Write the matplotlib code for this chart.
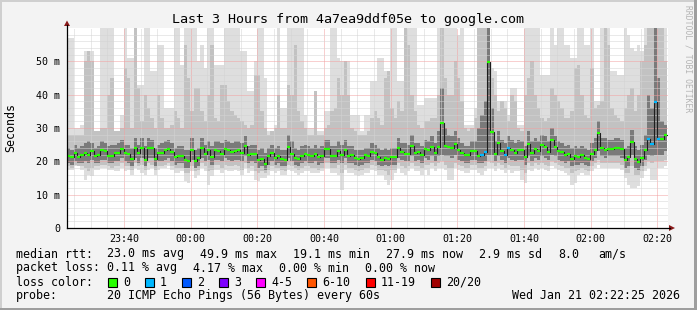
"""
SmokePing style latency graph: smoke bands + median rtt coloured by loss.
"""

import numpy as np
import matplotlib
matplotlib.use("Agg")
import matplotlib.pyplot as plt
from matplotlib.lines import Line2D
from matplotlib.patches import Rectangle, Polygon

W, H = 697, 310
MONO = "DejaVu Sans Mono"

# ---- data (ms, one value per 60 s step, 180 steps) ----
median = [
    21.6, 21.3, 22.5, 21.3, 21.9, 22.6, 21.9, 23.1, 21.5, 22.0,
    23.3, 23.1, 21.7, 21.7, 22.4, 22.6, 23.7, 22.4, 22.1, 20.8,
    24.1, 22.4, 24.1, 20.5, 24.1, 24.1, 20.8, 22.4, 22.6, 23.3,
    23.7, 22.8, 21.3, 21.7, 21.7, 20.3, 20.1, 23.5, 20.1, 21.0,
    24.1, 22.3, 23.3, 21.3, 23.3, 23.1, 22.3, 23.7, 23.3, 22.8,
    23.1, 23.3, 22.6, 24.6, 21.9, 22.3, 22.1, 20.5, 20.8, 19.1,
    21.5, 22.5, 21.1, 21.7, 20.7, 20.4, 24.3, 22.3, 21.1, 20.7,
    21.7, 22.3, 22.0, 21.7, 22.3, 21.3, 21.7, 23.7, 23.7, 21.7,
    21.7, 23.1, 22.0, 23.5, 21.7, 21.9, 21.1, 20.7, 21.1, 21.9,
    21.7, 22.8, 22.5, 21.3, 20.5, 21.1, 20.7, 21.3, 21.3, 24.1,
    22.8, 22.3, 22.3, 24.7, 22.5, 22.8, 21.9, 23.7, 23.3, 24.3,
    22.5, 24.3, 31.5, 24.7, 24.3, 24.1, 25.3, 23.5, 22.5, 21.9,
    21.9, 23.1, 23.1, 21.7, 21.9, 22.8, 49.9, 28.9, 22.3, 25.5,
    23.1, 21.9, 24.1, 23.5, 22.5, 23.5, 23.5, 21.3, 25.3, 22.5,
    23.7, 23.1, 24.9, 24.3, 22.8, 26.5, 24.3, 23.1, 22.8, 21.9,
    22.3, 20.8, 21.5, 21.3, 21.9, 21.1, 20.7, 22.3, 23.5, 28.5,
    24.1, 23.5, 23.7, 23.7, 24.1, 24.1, 23.7, 20.5, 21.3, 25.9,
    20.7, 19.7, 21.1, 23.3, 26.8, 25.3, 37.8, 26.8, 26.8, 27.9,
]

# outer smoke (slowest / fastest ping)
smoke_max = [
    57, 57, 30, 30, 31, 53, 53, 53, 29, 29,
    62, 62, 62, 62, 29, 29, 34, 62, 51, 51,
    62, 43, 43, 62, 62, 47, 47, 55, 55, 36,
    36, 36, 62, 62, 49, 62, 62, 62, 62, 50,
    55, 48, 62, 62, 49, 49, 49, 62, 62, 62,
    62, 62, 53, 53, 41, 41, 50, 62, 62, 45,
    29, 29, 31, 62, 36, 36, 62, 62, 62, 62,
    62, 34, 30, 30, 41, 29, 29, 35, 35, 62,
    62, 51, 50, 50, 50, 34, 34, 34, 29, 34,
    34, 44, 44, 51, 51, 47, 47, 62, 62, 44,
    44, 62, 62, 62, 62, 37, 37, 39, 39, 39,
    39, 62, 62, 62, 62, 60, 62, 58, 62, 31,
    31, 31, 36, 62, 62, 62, 62, 48, 47, 38,
    38, 38, 34, 42, 42, 31, 31, 62, 62, 62,
    62, 62, 46, 46, 46, 62, 55, 62, 62, 55,
    55, 51, 51, 62, 62, 55, 55, 62, 38, 38,
    62, 62, 62, 47, 47, 46, 46, 62, 58, 54,
    53, 55, 53, 62, 62, 62, 62, 62, 62, 62,
]
smoke_min = [
    17.5, 17.5, 18.5, 18.5, 17.5, 14.5, 16.0, 15.5, 17.5, 17.5,
    18.0, 18.0, 17.5, 17.5, 17.0, 17.0, 18.0, 17.0, 17.5, 16.0,
    18.0, 17.5, 16.5, 16.0, 17.5, 18.0, 16.0, 17.5, 18.0, 18.0,
    18.5, 17.5, 16.5, 16.5, 17.0, 14.0, 13.5, 17.0, 15.0, 16.0,
    18.0, 17.0, 13.0, 15.5, 17.5, 17.5, 16.5, 17.5, 17.0, 17.0,
    17.5, 17.0, 16.0, 18.0, 16.5, 17.0, 14.5, 14.0, 15.0, 15.0,
    16.0, 17.0, 16.5, 17.0, 16.0, 16.0, 17.5, 17.0, 16.5, 16.0,
    16.5, 17.0, 17.0, 16.5, 16.5, 16.5, 17.0, 18.0, 18.0, 16.5,
    16.5, 16.0, 11.5, 17.5, 16.5, 16.5, 16.0, 15.5, 16.0, 16.5,
    16.5, 17.5, 17.0, 16.0, 16.0, 14.5, 13.0, 14.5, 16.5, 18.0,
    16.5, 16.0, 17.0, 18.0, 17.0, 17.0, 16.0, 17.5, 16.0, 18.0,
    17.0, 18.0, 18.0, 17.5, 14.5, 14.5, 18.0, 17.5, 17.0, 16.5,
    16.5, 17.5, 17.5, 16.5, 16.0, 17.0, 18.0, 18.0, 17.0, 18.0,
    17.5, 16.5, 17.5, 16.5, 17.0, 17.0, 14.5, 13.5, 17.5, 17.0,
    18.0, 17.5, 18.0, 17.5, 17.0, 18.5, 18.0, 17.5, 17.0, 16.5,
    16.0, 13.0, 13.5, 16.0, 16.5, 16.0, 16.0, 17.0, 18.0, 19.0,
    18.0, 18.0, 18.0, 18.0, 18.0, 18.0, 17.5, 15.0, 13.0, 12.0,
    12.0, 12.5, 15.0, 17.0, 18.0, 14.5, 14.5, 18.0, 18.0, 18.5,
]

# middle smoke
smoke_hi = [
    28, 28, 28, 28, 28, 50, 53, 50, 29, 29,
    30, 30, 40, 45, 29, 29, 30, 48, 45, 30,
    60, 42, 32, 40, 36, 33, 30, 40, 33, 30,
    30, 31, 35, 33, 30, 55, 45, 35, 42, 42,
    35, 32, 40, 55, 33, 32, 43, 43, 38, 35,
    34, 33, 32, 31, 30, 31, 46, 46, 35, 30,
    28, 29, 30, 40, 30, 30, 43, 40, 55, 35,
    32, 30, 28, 28, 41, 28, 28, 30, 31, 35,
    36, 45, 40, 50, 40, 30, 29, 28, 28, 28,
    29, 33, 35, 33, 31, 45, 47, 36, 33, 38,
    35, 60, 55, 40, 35, 31, 30, 32, 32, 33,
    33, 40, 62, 45, 40, 40, 50, 45, 38, 30,
    29, 30, 33, 62, 62, 62, 62, 45, 40, 35,
    38, 36, 32, 40, 38, 30, 29, 40, 45, 50,
    40, 36, 33, 32, 33, 42, 40, 38, 36, 33,
    33, 35, 48, 49, 40, 34, 33, 48, 36, 37,
    38, 60, 55, 36, 34, 33, 32, 36, 40, 42,
    35, 40, 50, 55, 62, 62, 62, 62, 60, 50,
]
smoke_lo = [
    18.5, 18.0, 19.0, 18.5, 18.5, 18.0, 17.0, 18.0, 18.5, 18.5,
    19.0, 19.0, 18.5, 18.0, 18.5, 18.5, 19.5, 18.5, 18.5, 17.5,
    19.5, 18.5, 19.0, 17.5, 19.5, 19.0, 17.5, 18.5, 18.5, 19.0,
    19.5, 18.5, 18.0, 18.0, 18.0, 16.5, 16.5, 18.5, 17.0, 17.5,
    19.5, 18.5, 17.0, 17.5, 19.0, 19.0, 18.0, 19.0, 18.5, 18.5,
    19.0, 18.5, 17.5, 19.5, 18.0, 18.5, 17.0, 16.5, 17.0, 16.5,
    17.5, 18.5, 18.0, 18.0, 17.5, 17.0, 19.0, 18.5, 18.0, 17.5,
    18.0, 18.5, 18.5, 18.0, 18.0, 17.5, 18.0, 19.5, 19.5, 18.0,
    18.0, 19.0, 16.5, 19.0, 18.0, 18.0, 17.5, 17.0, 17.5, 18.0,
    18.0, 19.0, 18.5, 17.5, 17.5, 17.0, 16.0, 17.5, 17.5, 19.5,
    18.5, 18.0, 18.5, 19.5, 18.5, 18.5, 18.0, 19.0, 19.0, 19.5,
    18.5, 19.5, 20.0, 19.0, 18.0, 18.0, 19.5, 19.0, 18.5, 18.0,
    18.0, 19.0, 19.0, 18.0, 18.0, 18.5, 20.0, 19.5, 18.5, 19.5,
    19.0, 18.0, 19.0, 18.5, 18.5, 18.5, 17.5, 16.5, 19.5, 18.5,
    19.5, 19.0, 19.5, 19.0, 18.5, 20.0, 19.5, 19.0, 18.5, 18.0,
    18.0, 16.5, 17.0, 17.5, 18.0, 17.5, 17.0, 18.5, 19.5, 20.5,
    19.5, 19.5, 19.5, 19.5, 19.5, 19.5, 19.0, 16.5, 16.5, 18.5,
    16.0, 16.0, 17.0, 18.5, 20.0, 19.5, 20.0, 20.0, 20.0, 20.5,
]

# dense core around the median
core_hi = [
    24.0, 23.5, 25.0, 24.0, 24.5, 25.5, 26.0, 25.5, 24.0, 24.5,
    26.0, 25.5, 24.5, 25.0, 25.0, 25.5, 26.5, 25.0, 25.0, 24.0,
    27.0, 25.0, 27.0, 24.5, 27.0, 26.5, 24.0, 25.0, 25.5, 26.0,
    26.5, 25.5, 24.0, 24.5, 24.5, 23.5, 23.5, 27.0, 23.5, 24.0,
    27.0, 25.0, 26.0, 24.5, 26.0, 26.0, 25.5, 26.5, 26.0, 25.5,
    26.0, 26.0, 25.5, 27.5, 24.5, 25.0, 25.0, 23.5, 24.0, 22.5,
    24.0, 25.0, 24.0, 24.5, 23.5, 23.5, 28.0, 26.0, 24.0, 23.5,
    24.5, 25.0, 24.5, 24.0, 25.0, 24.0, 24.5, 26.5, 26.5, 24.5,
    24.5, 26.0, 25.0, 26.5, 24.5, 24.5, 23.5, 23.5, 23.5, 24.0,
    24.0, 25.5, 25.0, 24.0, 23.5, 24.0, 23.5, 24.0, 24.0, 27.0,
    25.5, 25.5, 25.0, 28.0, 25.5, 25.5, 24.5, 26.5, 26.0, 27.5,
    25.5, 29.0, 42.0, 30.0, 28.0, 27.5, 29.0, 27.0, 25.5, 24.5,
    24.5, 26.0, 26.0, 30.0, 34.0, 38.0, 62.0, 36.0, 26.0, 29.0,
    26.5, 25.5, 27.5, 26.5, 25.5, 26.5, 26.0, 24.5, 29.0, 26.0,
    27.0, 26.0, 28.0, 27.5, 26.0, 30.0, 27.5, 26.0, 25.5, 24.5,
    25.0, 24.0, 24.5, 24.0, 24.5, 24.0, 23.5, 25.5, 27.0, 32.0,
    27.0, 27.0, 26.5, 26.5, 27.0, 27.0, 26.5, 24.0, 24.5, 29.5,
    24.5, 23.5, 25.0, 28.0, 40.0, 36.0, 62.0, 45.0, 32.0, 31.0,
]
core_lo = [
    19.5, 19.0, 20.0, 19.5, 19.5, 20.0, 19.5, 20.5, 19.5, 19.5,
    20.5, 20.5, 19.5, 19.5, 20.0, 20.0, 21.0, 20.0, 19.5, 18.5,
    21.0, 19.5, 21.0, 18.5, 21.0, 21.0, 18.5, 20.0, 20.0, 20.5,
    21.0, 20.0, 19.0, 19.5, 19.5, 18.0, 18.0, 20.5, 18.0, 18.5,
    21.0, 20.0, 20.5, 19.0, 20.5, 20.5, 20.0, 21.0, 20.5, 20.0,
    20.5, 20.5, 20.0, 21.5, 19.5, 20.0, 19.5, 18.0, 18.5, 17.5,
    19.0, 20.0, 19.0, 19.5, 18.5, 18.5, 21.0, 20.0, 19.0, 18.5,
    19.5, 20.0, 19.5, 19.5, 20.0, 19.0, 19.5, 21.0, 21.0, 19.5,
    19.5, 20.5, 19.5, 21.0, 19.5, 19.5, 19.0, 18.5, 19.0, 19.5,
    19.5, 20.5, 20.0, 19.0, 18.5, 19.0, 18.5, 19.0, 19.0, 21.0,
    20.5, 20.0, 20.0, 21.5, 20.0, 20.5, 19.5, 21.0, 20.5, 21.5,
    20.0, 21.5, 22.0, 21.5, 21.5, 21.0, 22.0, 20.5, 20.0, 19.5,
    19.5, 20.5, 20.5, 19.5, 19.5, 20.0, 22.0, 22.0, 20.0, 21.5,
    20.5, 19.5, 21.0, 20.5, 20.0, 20.5, 20.5, 19.0, 21.5, 20.0,
    21.0, 20.5, 21.5, 21.0, 20.5, 22.0, 21.5, 20.5, 20.0, 19.5,
    20.0, 18.5, 19.0, 19.0, 19.5, 19.0, 18.5, 20.0, 21.0, 23.0,
    21.5, 21.0, 21.5, 21.5, 21.5, 21.5, 21.0, 18.0, 18.5, 22.0,
    18.0, 17.5, 18.5, 20.5, 22.0, 21.5, 22.0, 22.0, 22.0, 23.0,
]

# steps where one of the 20 pings was lost
loss_idx = [124, 125, 131, 132, 174, 175, 176, 177]

start_min = -37.1          # minutes relative to 00:00
x_range = (-37.1, 143.2)

tick_minutes = [-20, 0, 20, 40, 60, 80, 100, 120, 140]
tick_labels = ["23:40", "00:00", "00:20", "00:40", "01:00",
               "01:20", "01:40", "02:00", "02:20"]
y_ticks = [0, 10, 20, 30, 40, 50]
y_labels = ["0", "10 m", "20 m", "30 m", "40 m", "50 m"]

loss_legend = ["0", "1", "2", "3", "4-5", "6-10", "11-19", "20/20"]
loss_colors = ["#26ff00", "#00b8ff", "#0059ff", "#7e00ff",
               "#ff00ff", "#ff5500", "#ff0000", "#a10000"]

title = "Last 3 Hours from 4a7ea9ddf05e to google.com"
legend_rows = [
    [(16, "median rtt:"), (107, "23.0 ms avg"), (200, "49.9 ms max"),
     (293, "19.1 ms min"), (386, "27.9 ms now"), (479, "2.9 ms sd"),
     (558, "8.0"), (598, "am/s")],
    [(16, "packet loss:"), (107, "0.11 % avg"), (193, "4.17 % max"),
     (279, "0.00 % min"), (365, "0.00 % now")],
    [(16, "loss color:")],
    [(16, "probe:"), (107, "20 ICMP Echo Pings (56 Bytes) every 60s")],
]
stamp = "Wed Jan 21 02:22:25 2026"


def fx(px):
    return px / W


def fy(py):
    return 1 - py / H


fig = plt.figure(figsize=(W / 100, H / 100), dpi=100)
fig.patch.set_facecolor("#f3f3f3")

ax = fig.add_axes([fx(67), fy(228), 601 / W, 200 / H])
ax.set_facecolor("white")

t = start_min + np.arange(len(median))
med = np.array(median)

# smoke layers, outer to inner
for lo, hi, col in [(smoke_min, smoke_max, "#dedede"),
                    (smoke_lo, smoke_hi, "#c2c2c2"),
                    (core_lo, core_hi, "#7a7a7a")]:
    lo = np.array(lo, dtype=float)
    hi = np.array(hi, dtype=float)
    ax.bar(t, hi - lo, bottom=lo, width=1.0, align="edge", color=col,
           linewidth=0, antialiased=False, zorder=1)

# median: dark step line + colored segments
edges = np.append(t, t[-1] + 1)
ax.step(edges, np.append(med, med[-1]), where="post", color="#1e1e1e",
        lw=0.8, zorder=3)
loss = np.zeros(len(median), dtype=int)
loss[loss_idx] = 1
seg_cols = [loss_colors[n] for n in loss]
ax.hlines(med, t, t + 1, colors=seg_cols, lw=1.6, zorder=4)

ax.set_xlim(*x_range)
ax.set_ylim(0, 60)

# grid
ax.set_xticks(tick_minutes)
ax.set_xticklabels(tick_labels, family=MONO, fontsize=7.2)
ax.set_xticks(np.arange(-35, 143, 5), minor=True)
ax.set_yticks(y_ticks)
ax.set_yticklabels(y_labels, family=MONO, fontsize=7.2)
ax.set_yticks(np.arange(0, 60, 2), minor=True)
ax.tick_params(which="both", length=0)
ax.tick_params(axis="x", pad=4.5)
ax.tick_params(axis="y", pad=5)
ax.grid(which="minor", color="#d4d4d4", lw=0.72, ls=(0, (1, 1)), zorder=2.5)
ax.grid(which="major", color="#f2a0a0", lw=0.72, ls=(0, (1, 1)), zorder=2.6)
ax.set_axisbelow(False)
for s in ax.spines.values():
    s.set_visible(False)

# axes lines and arrows
fig.add_artist(Line2D([fx(67), fx(670)], [fy(228), fy(228)], color="black", lw=0.9))
fig.add_artist(Line2D([fx(67), fx(67)], [fy(228), fy(25)], color="black", lw=0.9))
arrow = "#8b1a1a"
fig.add_artist(Polygon([[fx(669), fy(225)], [fx(669), fy(231)], [fx(675), fy(228)]],
                       closed=True, color=arrow, lw=0))
fig.add_artist(Polygon([[fx(64), fy(26)], [fx(70), fy(26)], [fx(67), fy(20.5)]],
                       closed=True, color=arrow, lw=0))

# texts
fig.text(fx(348), fy(23.5), title, family=MONO, fontsize=9.6,
         ha="center", va="baseline")
fig.text(fx(11), fy(128), "Seconds", family=MONO, fontsize=8.4,
         rotation=90, ha="center", va="center")
fig.text(fx(688), fy(5), "RRDTOOL / TOBI OETIKER", family=MONO, fontsize=5.8,
         rotation=270, ha="center", va="top", color="#b4b4b4")

baselines = [257.5, 271.5, 285.5, 299.3]
for row, base in zip(legend_rows, baselines):
    for xpx, s in row:
        fig.text(fx(xpx), fy(base), s, family=MONO, fontsize=8.4,
                 ha="left", va="baseline")
fig.text(fx(680), fy(baselines[3]), stamp, family=MONO, fontsize=8.4,
         ha="right", va="baseline")

box_x = [108, 145, 182, 219, 256, 307, 366, 431]
for bx, lab, col in zip(box_x, loss_legend, loss_colors):
    fig.add_artist(Rectangle((fx(bx), fy(286.5)), 8.5 / W, 8.5 / H,
                             facecolor=col, edgecolor="black", lw=0.8))
    fig.text(fx(bx + 15), fy(baselines[2]), lab, family=MONO, fontsize=8.4,
             ha="left", va="baseline")

# frame shading
fig.add_artist(Rectangle((0, 0), 1, 2 / H, color="#9e9e9e", lw=0))
fig.add_artist(Rectangle((1 - 3 / W, 0), 3 / W, 1, color="#9e9e9e", lw=0))
fig.add_artist(Rectangle((0, 1 - 2 / H), 1 - 3 / W, 2 / H, color="#cfcfcf", lw=0))
fig.add_artist(Rectangle((0, 2 / H), 2 / W, 1 - 4 / H, color="#cfcfcf", lw=0))

fig.savefig("out.png", dpi=100, facecolor=fig.get_facecolor())
